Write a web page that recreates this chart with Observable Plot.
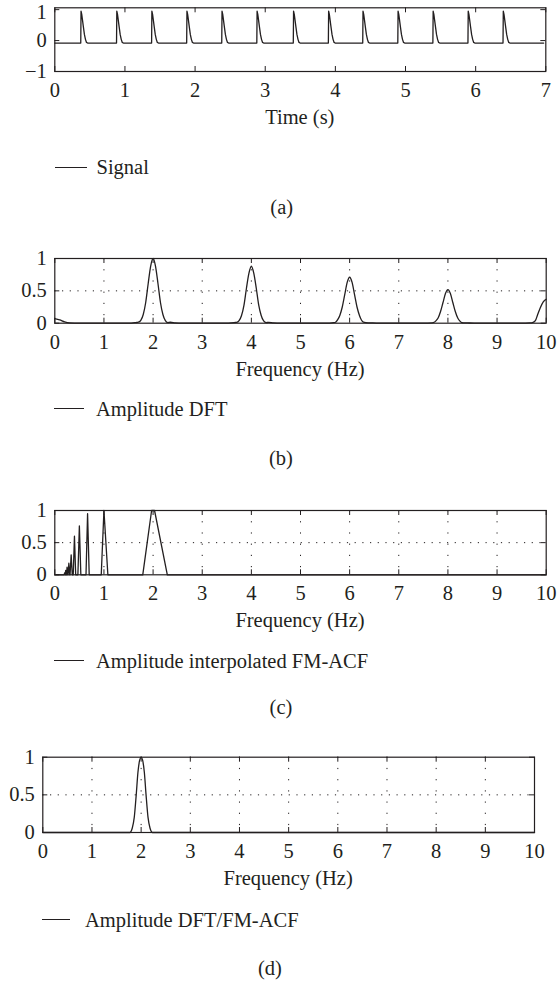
<!DOCTYPE html>
<html><head><meta charset="utf-8">
<script src="https://cdn.jsdelivr.net/npm/d3@7"></script>
<script src="https://cdn.jsdelivr.net/npm/@observablehq/plot@0.6"></script>
<style>
body{margin:0;background:#fff;}
#fig{position:relative;width:557px;height:982px;font-family:"Liberation Serif",serif;font-size:20.5px;color:#231f20;overflow:hidden;}
.t{position:absolute;white-space:nowrap;line-height:1;transform:translate(-50%,-50%);}
.l{position:absolute;white-space:nowrap;line-height:1;transform:translate(0,-50%);}
.ln{position:absolute;height:0;border-top:1.2px solid #231f20;}
#fig svg{position:absolute;left:0;}
</style></head><body><div id="fig"></div>
<script>
// ---------- data ----------
// (a) signal: pulse onset times (s) and one pulse shape (time offset, amplitude)
const pulseOnsets = [0.37, 0.88, 1.38, 1.88, 2.38, 2.88, 3.40, 3.90, 4.39, 4.89, 5.39, 5.89, 6.39];
const pulseShapeDt  = [0, 0.004, 0.014, 0.024, 0.037, 0.052, 0.067, 0.082, 0.097];
const pulseShapeAmp = [-0.08, 0.95, 0.85, 0.68, 0.45, 0.2, 0.04, -0.06, -0.08];
const signalBaseline = -0.08;
const signalStart = 0, signalEnd = 6.97;
const timeTicks = [0, 1, 2, 3, 4, 5, 6, 7];
const signalYTicks = [-1, 0, 1];

// (b) amplitude DFT
const dftFreq = [0,0.1,0.2,0.3,0.5,1.0,1.5,1.65,1.7,1.75,1.8,1.85,1.9,1.95,2.0,2.05,2.1,2.15,2.2,2.25,2.3,2.35,2.45,2.6,
  3.5,3.65,3.7,3.75,3.8,3.85,3.9,3.95,4.0,4.05,4.1,4.15,4.2,4.25,4.3,4.35,4.45,4.6,
  5.5,5.68,5.72,5.76,5.8,5.85,5.9,5.95,6.0,6.05,6.1,6.15,6.2,6.24,6.28,6.33,6.4,6.6,
  7.5,7.68,7.72,7.76,7.8,7.85,7.9,7.95,8.0,8.05,8.1,8.15,8.2,8.24,8.28,8.33,8.4,8.6,
  9.5,9.66,9.72,9.78,9.82,9.88,9.94,10.0];
const dftAmp  = [0.07,0.05,0.02,0.005,0,0,0,0.01,0.015,0.045,0.135,0.32,0.61,0.88,1.0,0.88,0.61,0.32,0.135,0.04,0.01,0.015,0.005,0,
  0,0.01,0.012,0.04,0.12,0.28,0.54,0.77,0.88,0.77,0.54,0.28,0.12,0.035,0.01,0.012,0.004,0,
  0,0.008,0.02,0.06,0.12,0.25,0.44,0.63,0.71,0.63,0.44,0.25,0.12,0.05,0.015,0.008,0.006,0,
  0,0.006,0.015,0.04,0.08,0.18,0.32,0.46,0.52,0.46,0.32,0.18,0.08,0.035,0.01,0.006,0.004,0,
  0,0.005,0.01,0.04,0.12,0.24,0.33,0.37];

// (c) amplitude interpolated FM-ACF
const acfFreq = [0,0.19,0.2,0.21,0.212,0.222,0.233,0.237,0.25,0.263,0.27,0.286,0.303,0.31,0.333,0.355,0.375,0.4,0.425,0.47,0.5,0.53,0.635,0.667,0.70,0.945,1.0,1.08,1.79,1.97,2.03,2.29,10];
const acfAmp  = [0,0,0.03,0,0,0.07,0,0,0.12,0,0,0.18,0,0,0.31,0,0,0.60,0,0,0.76,0,0,0.95,0,0,1.0,0,0,1.0,1.0,0,0];

// (d) amplitude DFT/FM-ACF
const ratioFreq = [0,1.77,1.82,1.86,1.90,1.935,1.97,2.0,2.03,2.065,2.10,2.14,2.18,2.23,10];
const ratioAmp  = [0,0,0.06,0.2,0.5,0.8,0.96,1.0,0.96,0.8,0.5,0.2,0.06,0,0];

const freqTicks = [0,1,2,3,4,5,6,7,8,9,10];
const freqGrid = [1,2,3,4,5,6,7,8,9];
const ampTicks = [0, 0.5, 1];
const ampGrid = [0.5];

// ---------- build ----------
const ink = "#231f20";
const fontSize = 20.5;
const fig = document.getElementById("fig");
const fmt = d => (d < 0 ? "\u2212" + Math.abs(d) : String(d));

const signal = [{x: signalStart, y: signalBaseline}];
for (const t0 of pulseOnsets) pulseShapeDt.forEach((dt, i) => signal.push({x: t0 + dt, y: pulseShapeAmp[i]}));
signal.push({x: signalEnd, y: signalBaseline});
const zip = (xs, ys) => xs.map((x, i) => ({x, y: ys[i]}));

function panel(o) {
  const H = 130, W = 557;
  const marginTop = o.frameTop - o.top;
  const marginBottom = H - (o.frameBottom - o.top);
  const plotH = o.frameBottom - o.frameTop;
  const plotW = o.right - o.left;
  const tk = 5;
  const marks = [];
  if (o.grid) {
    marks.push(Plot.ruleX(freqGrid, {x: d => d, stroke: ink, strokeWidth: 1, strokeDasharray: "1.2,10"}));
    marks.push(Plot.ruleY(ampGrid, {y: d => d, stroke: ink, strokeWidth: 1, strokeDasharray: "1.2,6.5"}));
  }
  const yMax = o.yTicks[o.yTicks.length - 1];
  marks.push(
    Plot.line(o.data, {x: "x", y: "y", stroke: ink, strokeWidth: 1.3, curve: o.curve}),
    Plot.frame({stroke: ink, strokeWidth: 1.2}),
    Plot.tickX(o.xTicks, {x: d => d, stroke: ink, insetTop: plotH - tk}),
    Plot.tickX(o.xTicks, {x: d => d, stroke: ink, insetBottom: plotH - tk}),
    Plot.tickY(o.yTicks, {y: d => d, stroke: ink, insetRight: plotW - tk}),
    Plot.tickY(o.yTicks, {y: d => d, stroke: ink, insetLeft: plotW - tk}),
    Plot.axisX({ticks: o.xTicks, tickFormat: fmt, anchor: "bottom", tickSize: 0, tickPadding: 11, label: null}),
    Plot.axisY({ticks: o.yTicks.slice(0, -1), tickFormat: fmt, anchor: "left", tickSize: 0, tickPadding: 8, label: null}),
    Plot.axisY({ticks: [yMax], tickFormat: fmt, anchor: "left", tickSize: 0, tickPadding: 8, label: null, dy: o.topLabelDy || 0})
  );
  const svg = Plot.plot({
    width: W, height: H, marginTop, marginBottom, marginLeft: o.left, marginRight: W - o.right,
    x: {domain: o.xDomain}, y: {domain: o.yDomain},
    style: {fontFamily: "Liberation Serif", fontSize: fontSize + "px", color: ink, background: "transparent", overflow: "visible"},
    marks
  });
  svg.style.top = o.top + "px";
  fig.appendChild(svg);

  const add = (cls, text, x, y) => {
    const d = document.createElement("div");
    d.className = cls; d.textContent = text;
    d.style.left = x + "px"; d.style.top = y + "px";
    fig.appendChild(d);
  };
  add("t", o.xLabel, (o.left + o.right) / 2, o.xLabelY);
  const ln = document.createElement("div");
  ln.className = "ln";
  ln.style.left = o.legX1 + "px"; ln.style.width = (o.legX2 - o.legX1) + "px"; ln.style.top = (o.legY - 0.6) + "px";
  fig.appendChild(ln);
  add("l", o.legend, o.legTextX, o.legY);
  add("t", o.caption, o.capX, o.capY);
}

panel({top: 0, frameTop: 7.3, frameBottom: 71, left: 54.3, right: 545.3,
  xDomain: [0, 7], yDomain: [-1, 1.06], xTicks: timeTicks, yTicks: signalYTicks, grid: false, topLabelDy: 2.8,
  data: signal, curve: "linear", xLabel: "Time (s)", xLabelY: 117,
  legend: "Signal", legX1: 55, legX2: 87, legTextX: 96.5, legY: 167.3, caption: "(a)", capX: 281.7, capY: 206.7});

panel({top: 240, frameTop: 258, frameBottom: 322.7, left: 54.3, right: 545.7,
  xDomain: [0, 10], yDomain: [0, 1], xTicks: freqTicks, yTicks: ampTicks, grid: true,
  data: zip(dftFreq, dftAmp), curve: "monotone-x", xLabel: "Frequency (Hz)", xLabelY: 369,
  legend: "Amplitude DFT", legX1: 54, legX2: 84, legTextX: 96, legY: 409, caption: "(b)", capX: 281, capY: 458});

panel({top: 490, frameTop: 510, frameBottom: 574.3, left: 54.3, right: 545.7,
  xDomain: [0, 10], yDomain: [0, 1], xTicks: freqTicks, yTicks: ampTicks, grid: true,
  data: zip(acfFreq, acfAmp), curve: "linear", xLabel: "Frequency (Hz)", xLabelY: 620,
  legend: "Amplitude interpolated FM-ACF", legX1: 54, legX2: 84, legTextX: 96, legY: 661, caption: "(c)", capX: 281, capY: 707});

panel({top: 740, frameTop: 756.7, frameBottom: 832, left: 42.3, right: 534,
  xDomain: [0, 10], yDomain: [0, 1], xTicks: freqTicks, yTicks: ampTicks, grid: true,
  data: zip(ratioFreq, ratioAmp), curve: "monotone-x", xLabel: "Frequency (Hz)", xLabelY: 878,
  legend: "Amplitude DFT/FM-ACF", legX1: 42, legX2: 70, legTextX: 85, legY: 920, caption: "(d)", capX: 270, capY: 968});
</script></body></html>
